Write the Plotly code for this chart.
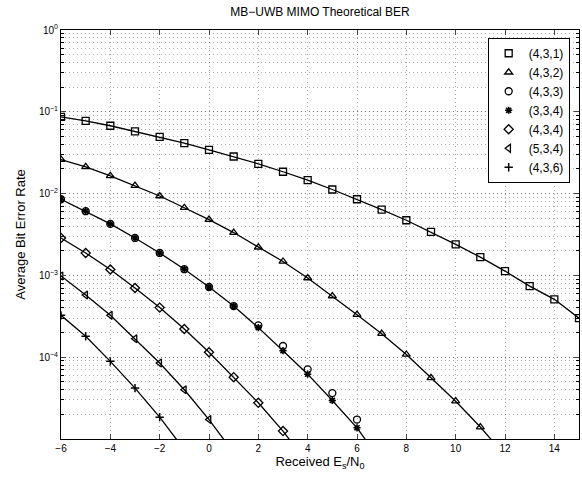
import plotly.graph_objects as go

snr = [-6, -5, -4, -3, -2, -1, 0, 1, 2, 3, 4, 5, 6, 7, 8, 9, 10, 11, 12, 13, 14, 15]

ber_431 = [0.0869, 0.0776, 0.0675, 0.0576, 0.0494, 0.0414, 0.0343, 0.0284, 0.0231, 0.0185, 0.0146,
           0.01122, 0.00853, 0.00638, 0.00472, 0.0034, 0.0024, 0.00167, 0.00113, 0.00074, 0.00051, 0.0003]
ber_432 = [0.0261, 0.0212, 0.0165, 0.0125, 0.00935, 0.00672, 0.0048, 0.00334, 0.00221, 0.00148, 0.00093,
           0.00056, 0.000331, 0.000194, 0.000108, 5.6e-5, 2.9e-5, 1.40e-5, 6.3e-6]
ber_433 = [0.00853, 0.00609, 0.00426, 0.00287, 0.00188, 0.00119, 0.000721, 0.000422, 0.000245, 0.000137,
           7.1e-5, 3.64e-5, 1.73e-5]
ber_334 = [0.00853, 0.00609, 0.00426, 0.00287, 0.00188, 0.00119, 0.000721, 0.000422, 0.00023, 0.000120,
           6.2e-5, 2.96e-5, 1.37e-5, 5.2e-6]
ber_434 = [0.00287, 0.00188, 0.00118, 0.000701, 0.000404, 0.000221, 0.000115, 5.7e-5, 2.77e-5, 1.25e-5, 5.0e-6]
ber_534 = [0.000984, 0.000576, 0.000325, 0.000168, 8.5e-5, 4.0e-5, 1.73e-5, 6.8e-6]
ber_436 = [0.000325, 0.000180, 8.9e-5, 4.19e-5, 1.85e-5, 7.4e-6]

labels = ["(4,3,1)", "(4,3,2)", "(4,3,3)", "(3,3,4)", "(4,3,4)", "(5,3,4)", "(4,3,6)"]
series = [ber_431, ber_432, ber_433, ber_334, ber_434, ber_534, ber_436]
symbols = ["square-open", "triangle-up-open", "circle-open", "asterisk-open",
           "diamond-open", "triangle-left-open", "cross-thin-open"]
has_line = [True, True, False, True, True, True, True]

x_tickvals = [-6, -4, -2, 0, 2, 4, 6, 8, 10, 12, 14]
y_tickvals = [1e-4, 1e-3, 1e-2, 1e-1, 1e0]
y_ticktext = ["10<sup>−4</sup>", "10<sup>−3</sup>", "10<sup>−2</sup>", "10<sup>−1</sup>", "10<sup>0</sup>"]

fig = go.Figure()

for ys, lk in zip(series, has_line):
    if lk:
        fig.add_trace(go.Scatter(x=snr[:len(ys)], y=ys, mode="lines",
                                 line=dict(color="black", width=1.3),
                                 showlegend=False, hoverinfo="skip"))

for ys, lab, sym in zip(series, labels, symbols):
    msize = 7
    lw = 1.3
    if sym == "asterisk-open":
        lw = 1.6
        msize = 6
    if sym == "cross-thin-open":
        lw = 1.5
        msize = 6
    fig.add_trace(go.Scatter(x=snr[:len(ys)], y=ys, mode="markers", name=lab,
                             marker=dict(symbol=sym, size=msize, color="black",
                                         line=dict(color="black", width=lw))))

grid_col = "rgba(0,0,0,0.32)"
fig.update_layout(
    width=582, height=479,
    margin=dict(l=61, r=3, t=30, b=40, autoexpand=False),
    paper_bgcolor="white", plot_bgcolor="white",
    font=dict(family="Liberation Sans, Arial, sans-serif", size=11, color="black"),
    title=dict(text="MB−UWB MIMO Theoretical BER", x=0.5, xref="paper", xanchor="center",
               y=0.975, yref="container", yanchor="middle", font=dict(size=12)),
    showlegend=True,
    legend=dict(x=0.982, xanchor="right", y=0.981, yanchor="top",
                bordercolor="black", borderwidth=1, bgcolor="white",
                font=dict(size=12), itemwidth=30, tracegroupgap=0),
)
fig.update_xaxes(
    range=[-6, 15], tickvals=x_tickvals, ticks="inside", ticklen=5,
    showline=True, linecolor="black", linewidth=1, mirror="allticks",
    showgrid=True, gridcolor=grid_col, griddash="1px,3px", gridwidth=1,
    zeroline=False, tickfont=dict(size=10), automargin=False,
    title=dict(text="Received E<sub>s</sub>/N<sub>0</sub>", font=dict(size=13), standoff=2),
)
fig.update_yaxes(
    type="log", range=[-5, 0], tickvals=y_tickvals, ticktext=y_ticktext,
    ticks="inside", ticklen=5,
    showline=True, linecolor="black", linewidth=1, mirror="allticks",
    showgrid=True, gridcolor=grid_col, griddash="1px,3px", gridwidth=1,
    zeroline=False, tickfont=dict(size=10), automargin=False,
    minor=dict(dtick="D1", showgrid=True, gridcolor=grid_col, griddash="1px,3px",
               ticks="inside", ticklen=3, tickcolor="black"),
    title=dict(text="Average Bit Error Rate", font=dict(size=13), standoff=10),
)

fig.write_html("out.html", config={"displayModeBar": False},
               post_script="document.body.style.margin='0';")
